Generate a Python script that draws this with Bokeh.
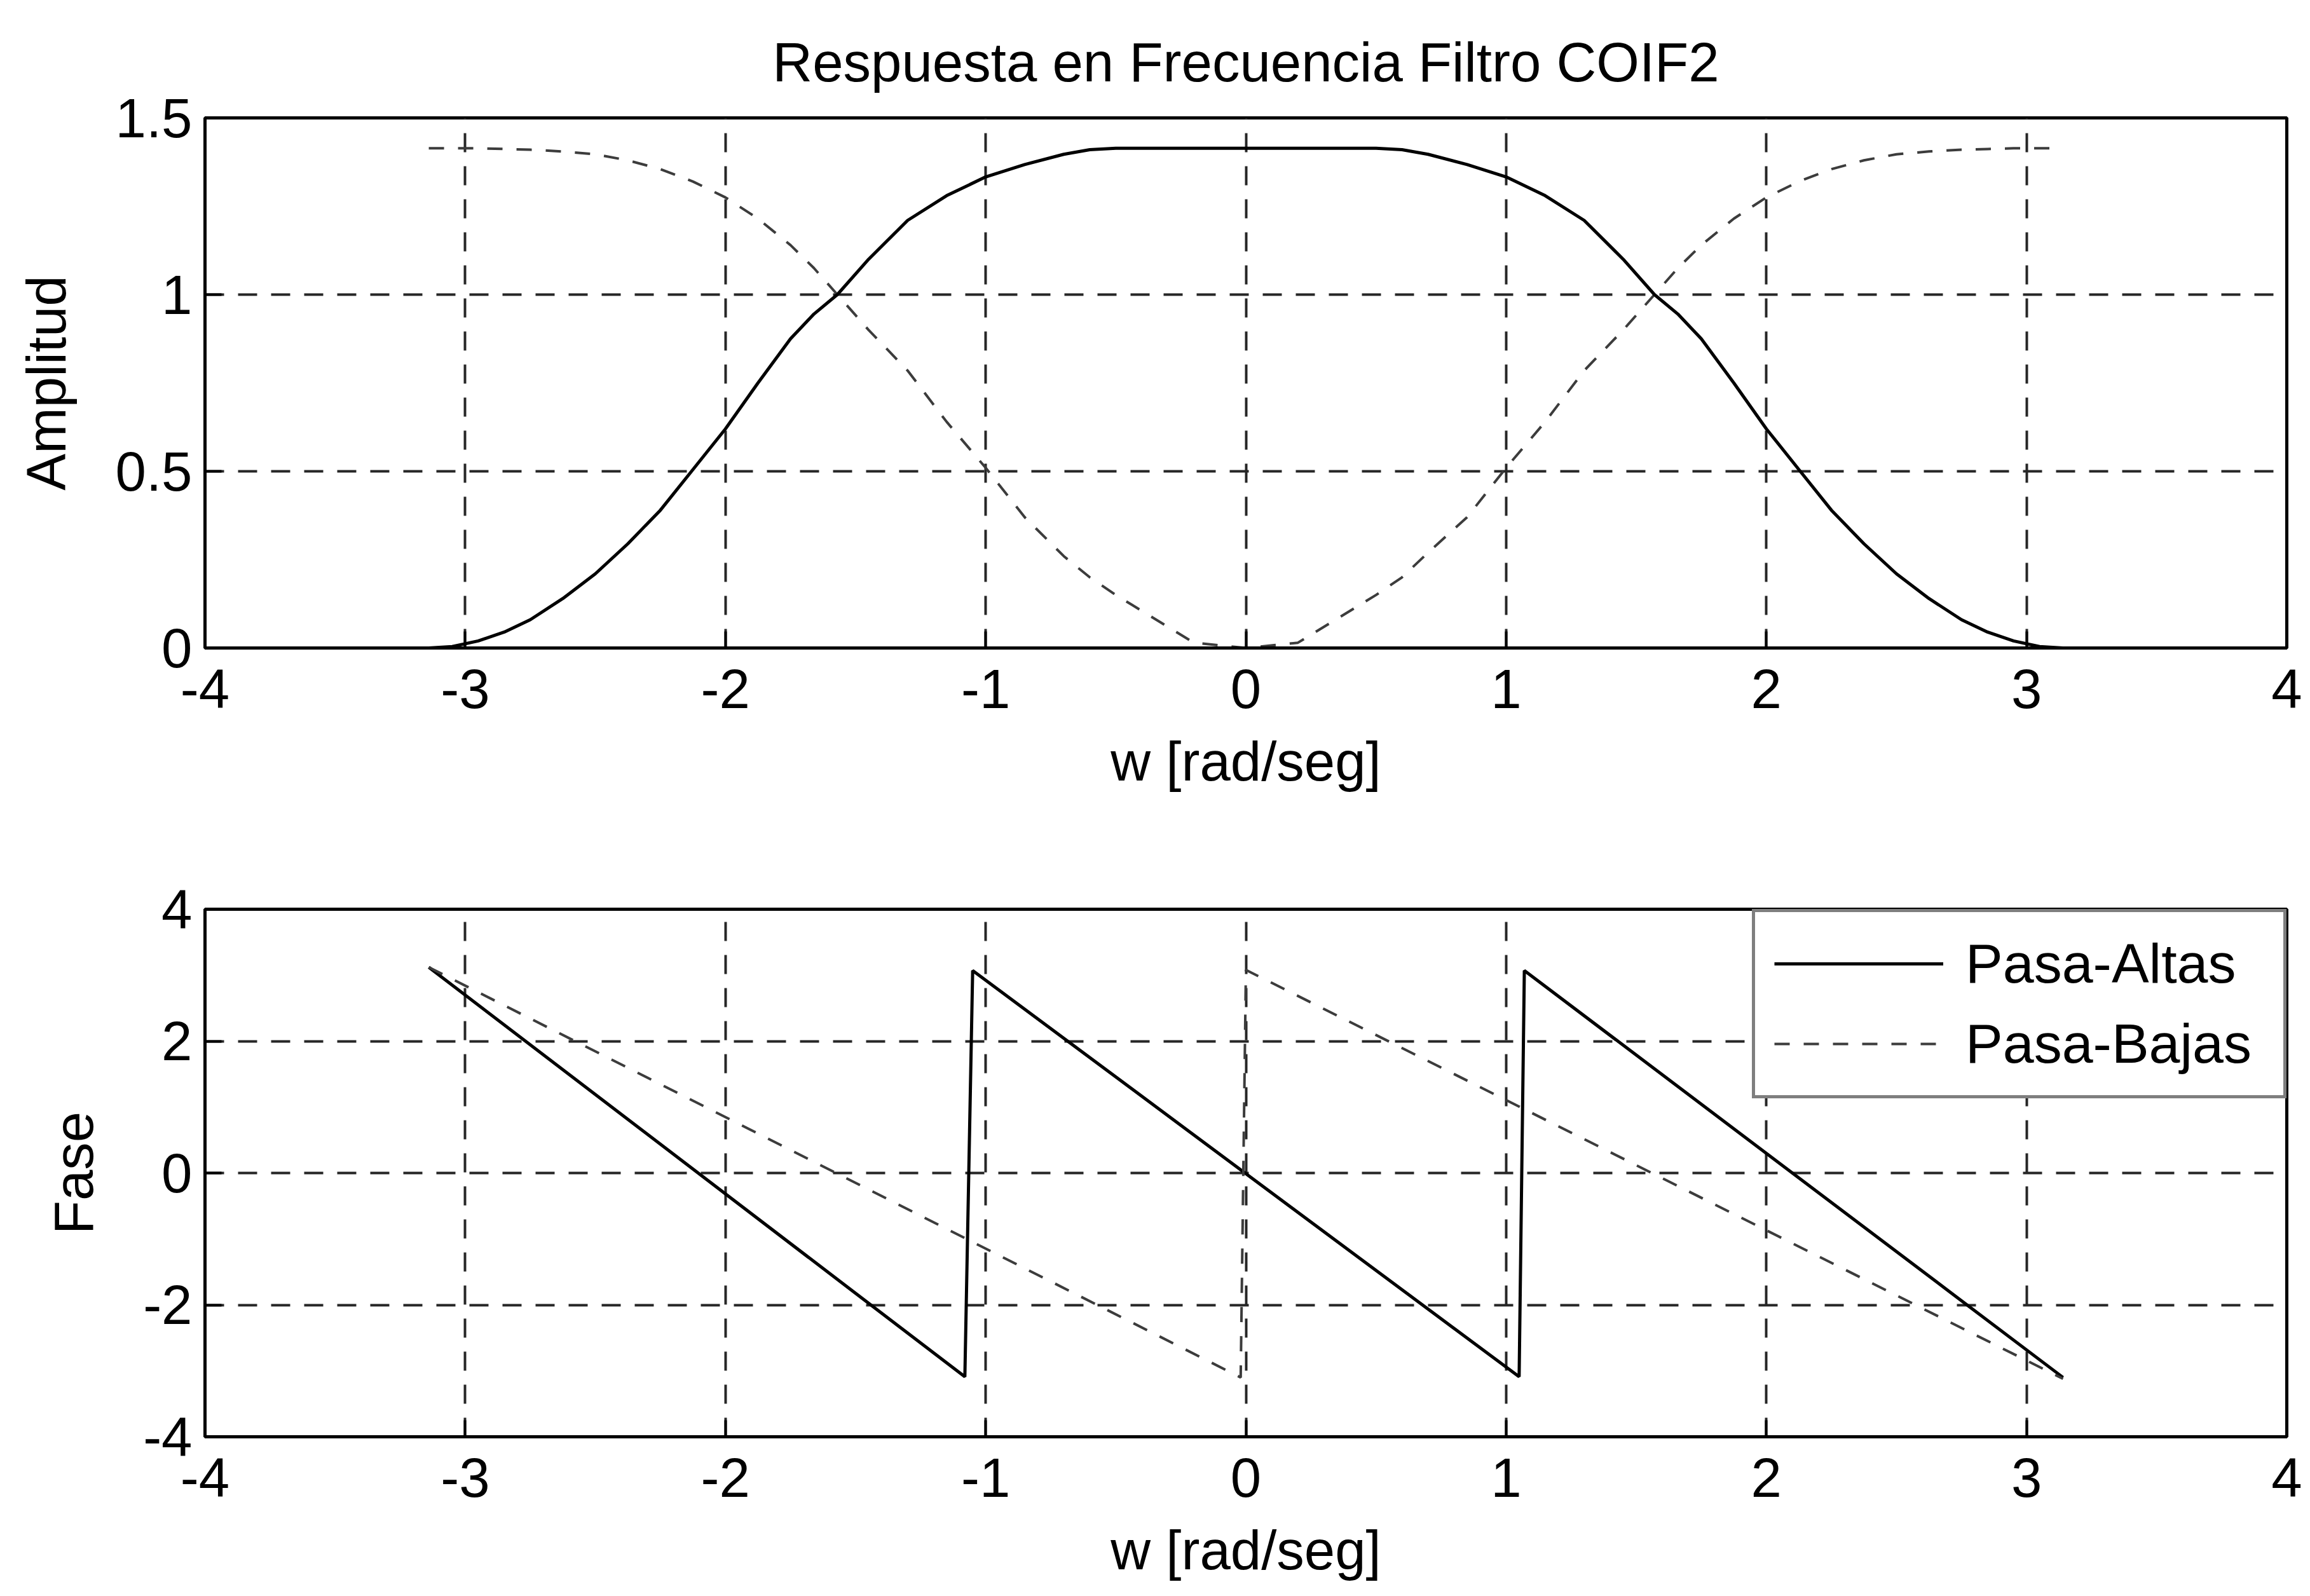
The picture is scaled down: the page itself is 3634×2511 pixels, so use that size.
from bokeh.plotting import figure
from bokeh.models import Range1d, FixedTicker, Title
from bokeh.layouts import column
from bokeh.embed import file_html
from bokeh.resources import INLINE

# ---- data ----
w_amp = [-3.14, -3.05, -2.95, -2.85, -2.75, -2.625, -2.5, -2.375, -2.25, -2.125, -2.0,
         -1.875, -1.75, -1.66, -1.57, -1.45, -1.3, -1.15, -1.0, -0.85, -0.7, -0.6, -0.5,
         -0.2, 0.0, 0.2,
         0.5, 0.6, 0.7, 0.85, 1.0, 1.15, 1.3, 1.45, 1.57, 1.66, 1.75, 1.875, 2.0, 2.125,
         2.25, 2.375, 2.5, 2.625, 2.75, 2.85, 2.95, 3.05, 3.14]
amp_altas = [0.0, 0.004, 0.02, 0.045, 0.08, 0.14, 0.21, 0.295, 0.39, 0.505, 0.62,
             0.75, 0.875, 0.945, 1.0, 1.1, 1.21, 1.28, 1.333, 1.368, 1.397, 1.41, 1.414,
             1.414, 1.414, 1.414,
             1.414, 1.41, 1.397, 1.368, 1.333, 1.28, 1.21, 1.1, 1.0, 0.945, 0.875, 0.75, 0.62, 0.505,
             0.39, 0.295, 0.21, 0.14, 0.08, 0.045, 0.02, 0.004, 0.0]
amp_bajas = [1.414, 1.414, 1.414, 1.412, 1.41, 1.405, 1.397, 1.38, 1.355, 1.32, 1.275,
             1.215, 1.14, 1.075, 1.0, 0.9, 0.785, 0.64, 0.51, 0.37, 0.26, 0.2, 0.15,
             0.015, 0.0, 0.015,
             0.15, 0.2, 0.27, 0.37, 0.51, 0.64, 0.785, 0.9, 1.0, 1.075, 1.14, 1.215, 1.275, 1.32,
             1.355, 1.38, 1.397, 1.405, 1.41, 1.412, 1.414, 1.414, 1.414]

w_fase_altas = [-3.14, -1.08, -1.05, 1.05, 1.07, 3.14]
fase_altas = [3.12, -3.09, 3.07, -3.09, 3.07, -3.10]
w_fase_bajas = [-3.14, -0.02, 0.0, 3.14]
fase_bajas = [3.12, -3.10, 3.08, -3.12]

x_ticks = [-4, -3, -2, -1, 0, 1, 2, 3, 4]
x_tick_labels = ["-4", "-3", "-2", "-1", "0", "1", "2", "3", "4"]
amp_ticks = [0, 0.5, 1, 1.5]
amp_tick_labels = ["0", "0.5", "1", "1.5"]
fase_ticks = [-4, -2, 0, 2, 4]
fase_tick_labels = ["-4", "-2", "0", "2", "4"]

title_text = "Respuesta en Frecuencia Filtro COIF2"
xlabel = "w [rad/seg]"
FONT = "Liberation Sans"
FS = "87px"
W = 3634
GRAY = "#3c3c3c"


def style_axis(ax, ticks, labels):
    ax.ticker = FixedTicker(ticks=ticks)
    ax.major_label_overrides = dict(zip(ticks, labels))
    ax.axis_line_color = "black"
    ax.axis_line_width = 5
    ax.major_tick_line_color = "black"
    ax.major_tick_line_width = 4
    ax.major_tick_in = 26
    ax.major_tick_out = 0
    ax.minor_tick_line_color = None
    ax.major_label_text_font = FONT
    ax.major_label_text_color = "black"
    ax.major_label_text_font_size = FS
    ax.major_label_standoff = 34
    ax.axis_label_text_font = FONT
    ax.axis_label_text_font_size = FS
    ax.axis_label_text_font_style = "normal"
    ax.axis_label_text_color = "black"


def make_fig(height, top, bottom, yr, yticks, ylabels, ylab):
    p = figure(width=W, height=height, x_range=Range1d(-4, 4), y_range=Range1d(*yr),
               output_backend="svg", toolbar_location=None,
               min_border_left=322, min_border_right=37,
               min_border_top=top, min_border_bottom=bottom)
    p.background_fill_color = "white"
    p.border_fill_color = "white"
    p.outline_line_color = "black"
    p.outline_line_width = 5
    style_axis(p.xaxis[0], x_ticks, x_tick_labels)
    p.xaxis[0].axis_label = xlabel
    p.xaxis[0].axis_label_standoff = 32
    style_axis(p.yaxis[0], yticks, ylabels)
    p.yaxis[0].major_label_standoff = 20
    p.yaxis[0].axis_label = ylab
    p.yaxis[0].axis_label_standoff = 58
    for g, t in ((p.xgrid, x_ticks), (p.ygrid, yticks)):
        g.ticker = FixedTicker(ticks=t)
        g.grid_line_color = "#262626"
        g.grid_line_width = 4
        g.grid_line_dash = "30 22"
    return p


p1 = make_fig(1255, 185, 236, (0, 1.5), amp_ticks, amp_tick_labels, "Amplitud")
p1.title = Title(text=title_text, align="center", text_font=FONT, text_font_size=FS,
                 text_font_style="normal", text_color="black", standoff=80)
p1.line(w_amp, amp_bajas, line_color=GRAY, line_width=4, line_dash="24 22")
p1.line(w_amp, amp_altas, line_color="black", line_width=5)

p2 = make_fig(1256, 175, 251, (-4, 4), fase_ticks, fase_tick_labels, "Fase")
p2.line(w_fase_altas, fase_altas, line_color="black", line_width=5, legend_label="Pasa-Altas")
p2.line(w_fase_bajas, fase_bajas, line_color=GRAY, line_width=4, line_dash="24 22",
        legend_label="Pasa-Bajas")
lg = p2.legend[0]
lg.location = "top_right"
lg.margin = 0
lg.padding = 30
lg.spacing = 24
lg.glyph_width = 266
lg.glyph_height = 100
lg.label_height = 100
lg.label_width = 470
lg.label_standoff = 35
lg.label_text_font = FONT
lg.label_text_font_size = "88px"
lg.label_text_color = "black"
lg.border_line_color = "black"
lg.border_line_width = 5
lg.background_fill_color = "white"
lg.background_fill_alpha = 1.0

layout = column(p1, p2, spacing=0)
open("out.html", "w").write(file_html(layout, INLINE))
